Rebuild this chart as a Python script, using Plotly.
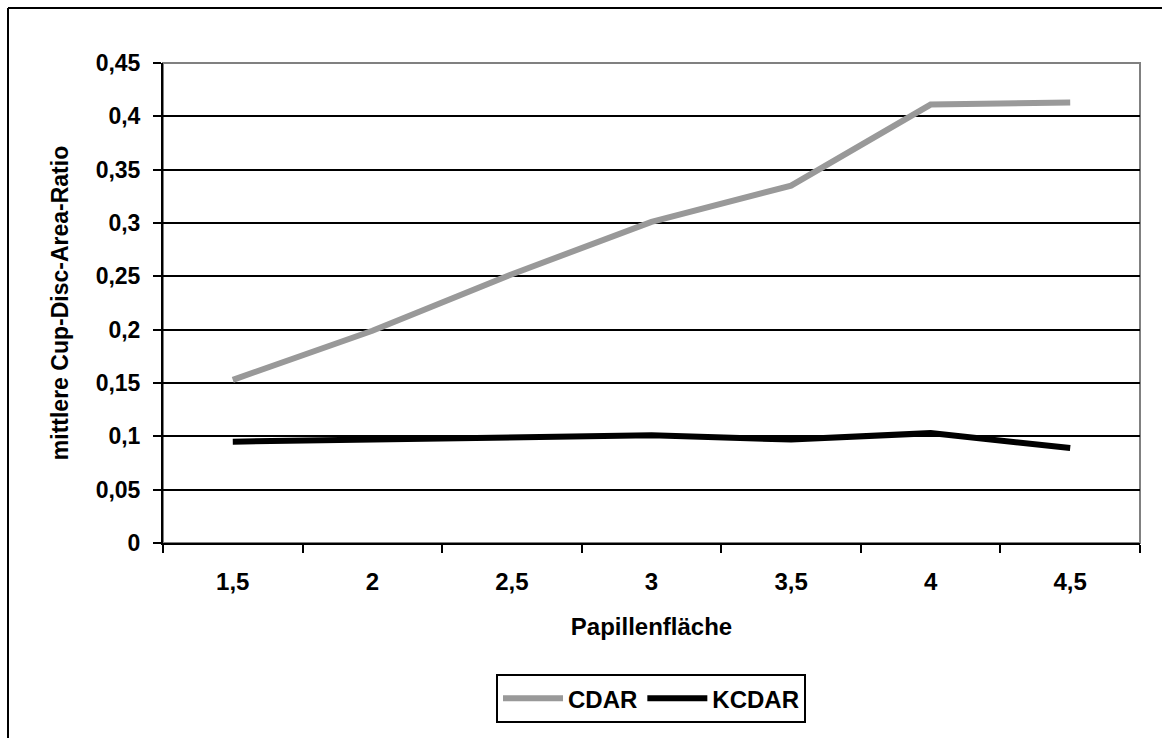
import plotly.graph_objects as go

categories = ["1,5", "2", "2,5", "3", "3,5", "4", "4,5"]
cdar = [0.153, 0.199, 0.252, 0.301, 0.335, 0.411, 0.413]
kcdar = [0.095, 0.097, 0.100, 0.101, 0.097, 0.103, 0.089]
y_ticks = [0, 0.05, 0.1, 0.15, 0.2, 0.25, 0.3, 0.35, 0.4, 0.45]
y_labels = ["0", "0,05", "0,1", "0,15", "0,2", "0,25", "0,3", "0,35", "0,4", "0,45"]

FONT = "Liberation Sans, Arial, sans-serif"
FS = 24

fig = go.Figure()
fig.add_trace(go.Scatter(x=categories, y=cdar, mode="lines", name="CDAR",
                         line=dict(color="#999999", width=6)))
fig.add_trace(go.Scatter(x=categories, y=kcdar, mode="lines", name="KCDAR",
                         line=dict(color="#000000", width=6)))

fig.update_layout(
    width=1162, height=738,
    margin=dict(l=163, r=22, t=63, b=195),
    paper_bgcolor="white", plot_bgcolor="white",
    font=dict(family=FONT, size=FS, color="black", weight="bold"),
    showlegend=True,
    legend=dict(orientation="h", x=0.4995, xanchor="center", y=-0.273, yanchor="top",
                bordercolor="black", borderwidth=2, bgcolor="white",
                itemwidth=60,
                font=dict(family=FONT, size=FS, color="black", weight="bold")),
    shapes=[
        dict(type="rect", xref="paper", yref="paper", x0=0, x1=1, y0=0, y1=1,
             line=dict(color="#808080", width=2), layer="below"),
        dict(type="line", xref="paper", yref="paper",
             x0=(8 - 163) / 977, x1=1.1, y0=(543 - 8) / 480, y1=(543 - 8) / 480,
             line=dict(color="black", width=2)),
        dict(type="line", xref="paper", yref="paper",
             x0=(8 - 163) / 977, x1=(8 - 163) / 977, y0=(543 - 8) / 480, y1=-0.5,
             line=dict(color="black", width=2)),
    ],
)

fig.update_xaxes(
    type="category", tickson="boundaries", ticks="outside", ticklen=8, tickwidth=2,
    tickcolor="black", showline=True, linecolor="black", linewidth=2,
    showgrid=False, range=[-0.5, 6.5], ticklabelstandoff=16,
    tickfont=dict(family=FONT, size=FS, weight="bold"),
    title=dict(text="Papillenfläche", standoff=24,
               font=dict(family=FONT, size=FS, weight="bold")),
)
fig.update_yaxes(
    range=[0, 0.45], tickvals=y_ticks, ticktext=y_labels,
    ticks="outside", ticklen=8, tickwidth=2, tickcolor="black",
    showline=True, linecolor="black", linewidth=2, ticklabelstandoff=8,
    showgrid=True, gridcolor="black", gridwidth=2, zeroline=False,
    tickfont=dict(family=FONT, size=FS - 1, weight="bold"),
    title=dict(text="mittlere Cup-Disc-Area-Ratio", standoff=21,
               font=dict(family=FONT, size=FS - 1, weight="bold")),
)

fig.write_html("out.html")
